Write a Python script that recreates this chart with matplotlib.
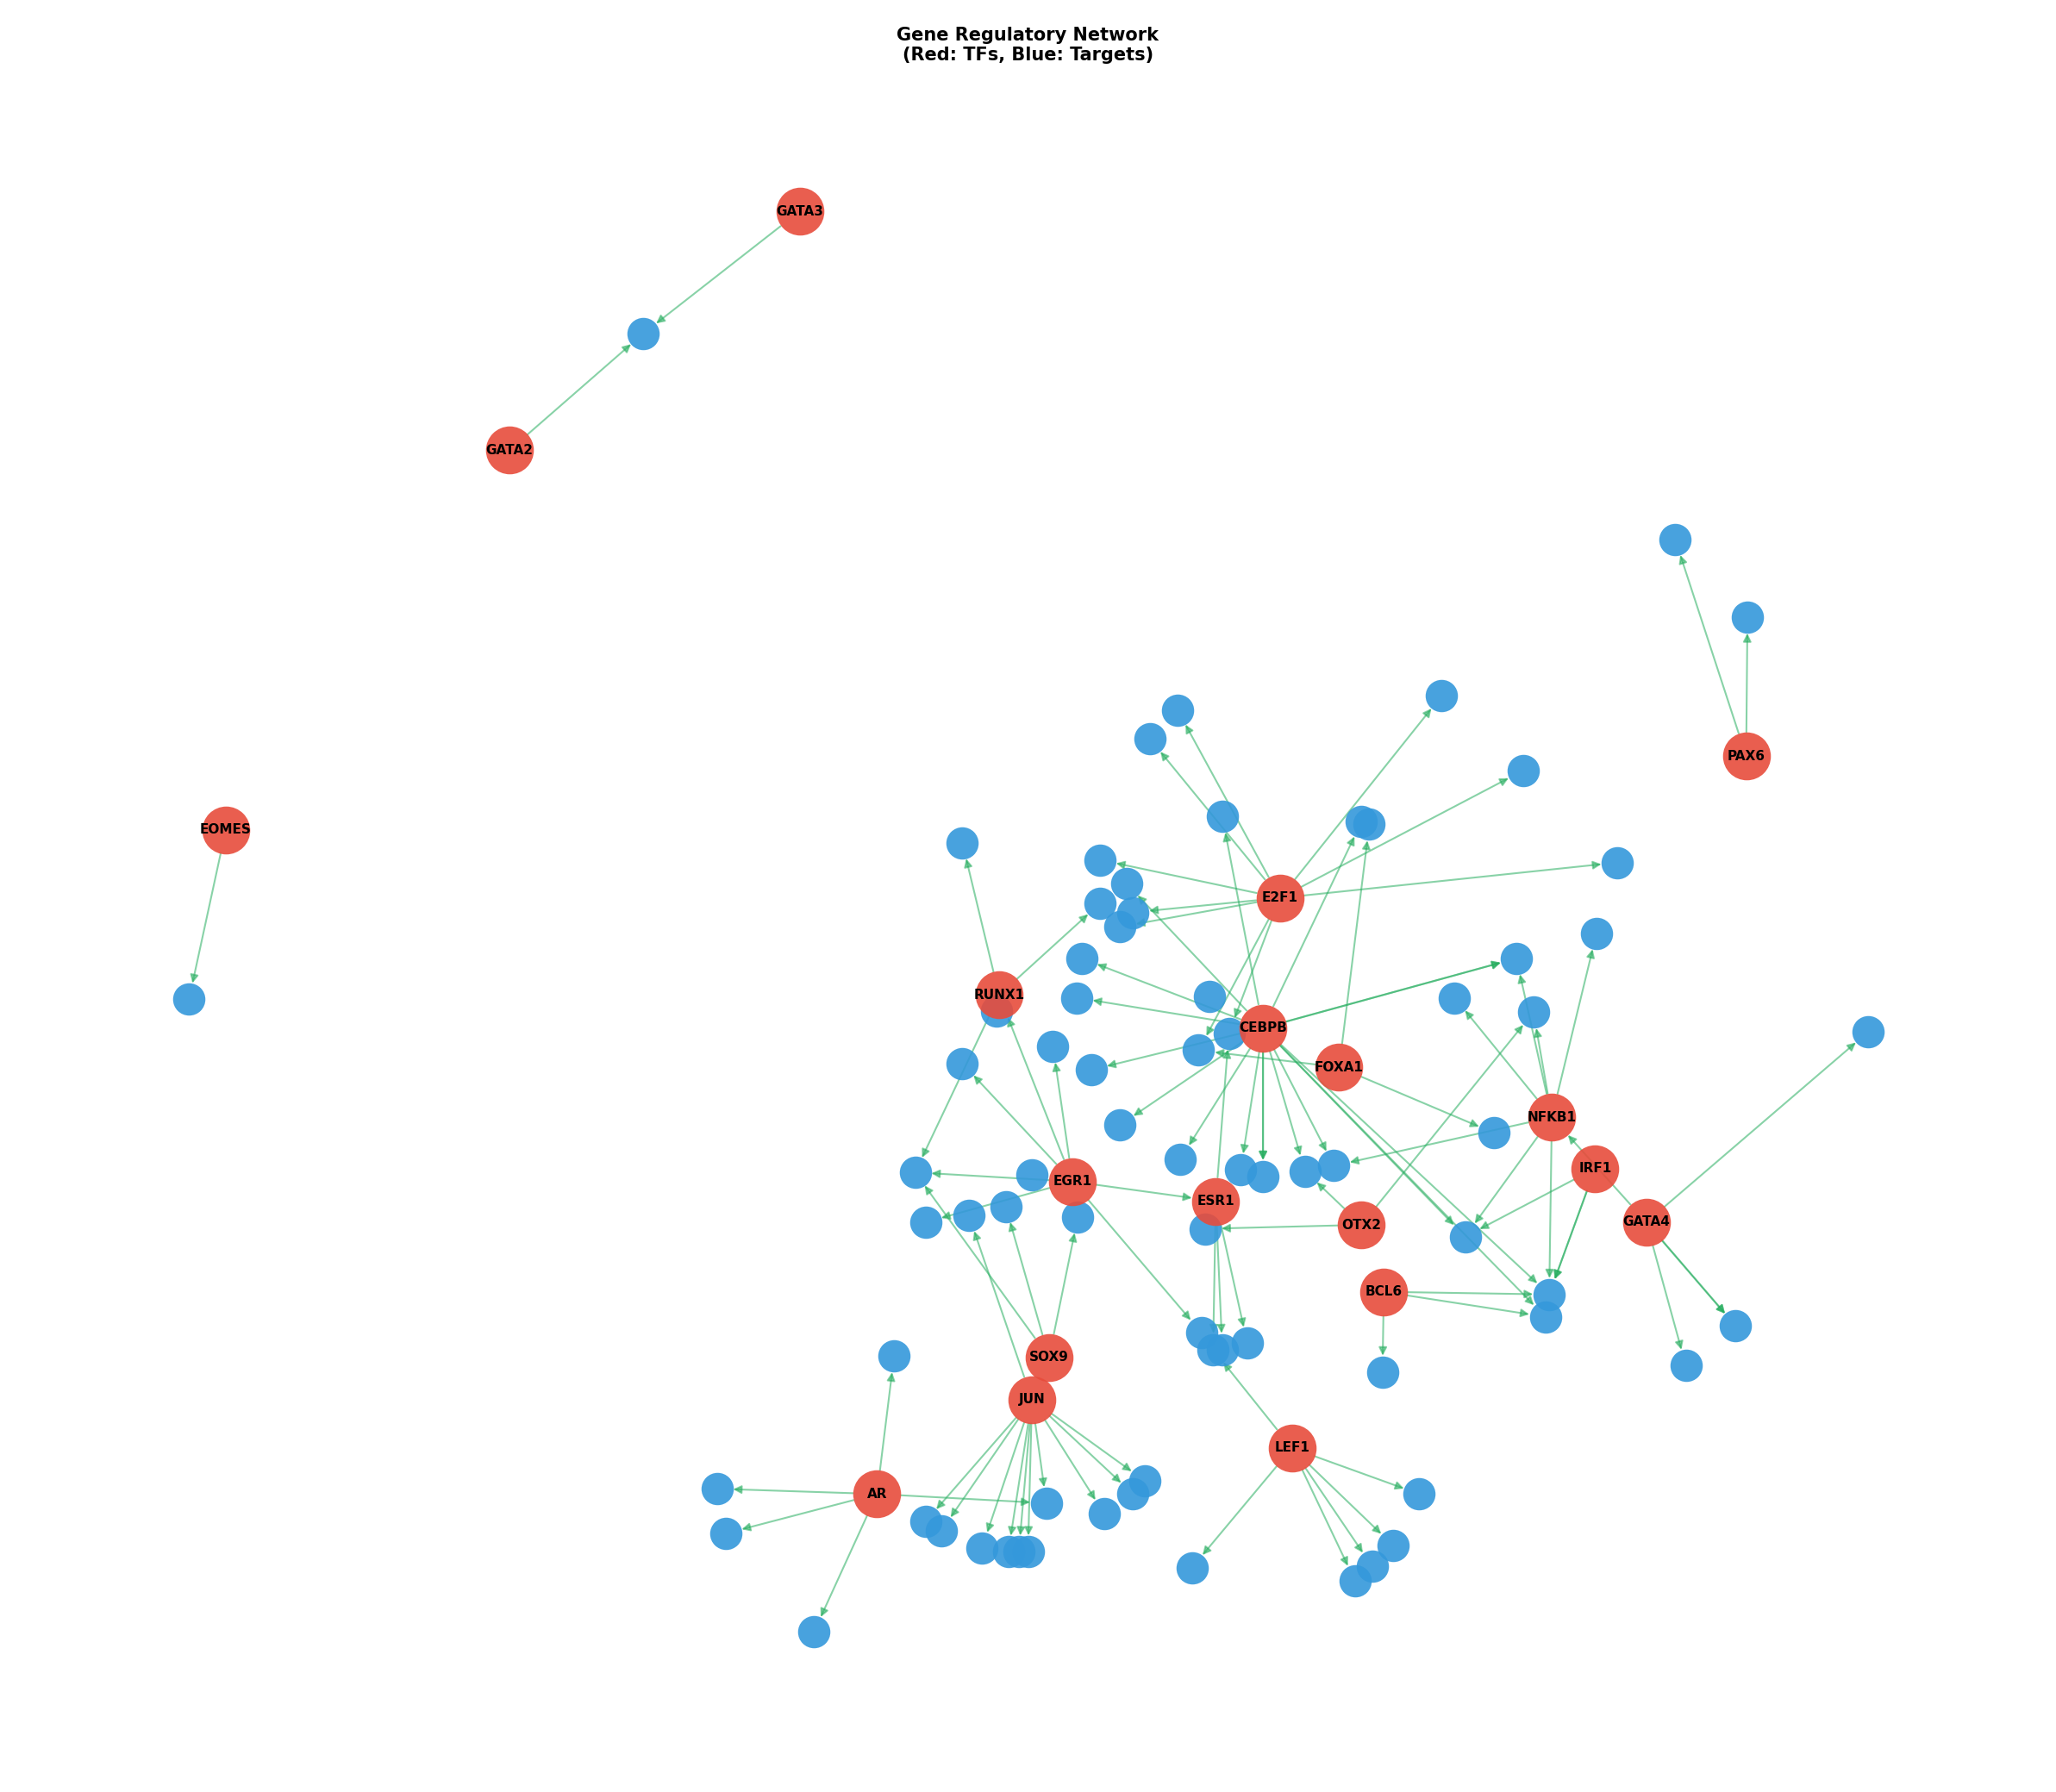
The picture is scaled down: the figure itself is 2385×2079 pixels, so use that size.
import matplotlib.pyplot as plt
from matplotlib.patches import FancyArrowPatch

# node positions (pixel-like layout coordinates, y down)
tf_names = ["GATA3", "GATA2", "PAX6", "EOMES", "E2F1", "RUNX1", "CEBPB", "FOXA1", "NFKB1",
            "IRF1", "EGR1", "ESR1", "GATA4", "OTX2", "BCL6", "SOX9", "JUN", "LEF1", "AR"]
tf_x = [609, 388, 1330, 172, 975, 761, 962, 1020, 1182, 1215, 817, 926, 1254, 1037, 1054, 799, 786, 984, 668]
tf_y = [161, 343, 576, 632, 684, 758, 783, 813, 851, 890, 900, 915, 931, 933, 984, 1034, 1066, 1103, 1138]

target_pos = {
    1: (490, 254), 2: (1276, 411), 3: (1331, 470), 4: (144, 761), 5: (1098, 530), 6: (897, 541),
    7: (876, 563), 8: (1160, 587), 9: (931, 622), 10: (1037, 626), 11: (1043, 628), 12: (733, 642),
    13: (838, 655), 14: (1232, 657), 15: (858, 673), 16: (838, 688), 17: (863, 695), 18: (853, 706),
    19: (1216, 711), 20: (824, 730), 21: (1155, 730), 22: (820, 760), 23: (921, 759), 24: (1108, 760),
    25: (759, 770), 26: (1168, 771), 27: (936, 787), 28: (1423, 786), 29: (802, 797), 30: (913, 800),
    31: (733, 810), 32: (831, 815), 33: (853, 857), 34: (1138, 863), 35: (899, 883), 36: (697, 893),
    37: (786, 895), 38: (945, 891), 39: (962, 896), 40: (994, 892), 41: (1016, 888), 42: (766, 919),
    43: (738, 926), 44: (705, 931), 45: (821, 927), 46: (918, 936), 47: (1116, 942), 48: (1180, 986),
    49: (1177, 1003), 50: (1322, 1010), 51: (915, 1015), 52: (924, 1028), 53: (931, 1028), 54: (950, 1023),
    55: (1284, 1040), 56: (1053, 1045), 57: (681, 1033), 58: (546, 1134), 59: (797, 1145), 60: (872, 1128),
    61: (863, 1138), 62: (1081, 1138), 63: (553, 1168), 64: (705, 1159), 65: (717, 1166), 66: (841, 1153),
    67: (748, 1179), 68: (768, 1182), 69: (776, 1182), 70: (783, 1182), 71: (1061, 1177), 72: (1045, 1193),
    73: (1032, 1204), 74: (908, 1194), 75: (620, 1243),
}

edges = [
    ("GATA3", 1), ("GATA2", 1), ("PAX6", 2), ("PAX6", 3), ("EOMES", 4),
    ("E2F1", 6), ("E2F1", 7), ("E2F1", 5), ("E2F1", 8), ("E2F1", 14), ("E2F1", 13), ("E2F1", 17),
    ("E2F1", 18), ("E2F1", 27), ("E2F1", 30),
    ("CEBPB", 9), ("CEBPB", 10), ("CEBPB", 15), ("CEBPB", 20), ("CEBPB", 22), ("CEBPB", 21),
    ("CEBPB", 21), ("CEBPB", 32), ("CEBPB", 33), ("CEBPB", 35), ("CEBPB", 38), ("CEBPB", 39),
    ("CEBPB", 39), ("CEBPB", 40), ("CEBPB", 41), ("CEBPB", 47), ("CEBPB", 48), ("CEBPB", 49),
    ("FOXA1", 30), ("FOXA1", 34), ("FOXA1", 11),
    ("RUNX1", 12), ("RUNX1", 16), ("RUNX1", 36),
    ("EGR1", "RUNX1"), ("EGR1", 31), ("EGR1", 29), ("EGR1", 36), ("EGR1", 44), ("EGR1", 51), ("EGR1", "ESR1"),
    ("ESR1", 27), ("ESR1", 52), ("ESR1", 53), ("ESR1", 54),
    ("NFKB1", 24), ("NFKB1", 26), ("NFKB1", 21), ("NFKB1", 19), ("NFKB1", 47), ("NFKB1", 48), ("NFKB1", 41),
    ("IRF1", 47), ("IRF1", 48), ("IRF1", 48),
    ("GATA4", "NFKB1"), ("GATA4", 28), ("GATA4", 50), ("GATA4", 50), ("GATA4", 55),
    ("OTX2", 26), ("OTX2", 46), ("OTX2", 40),
    ("BCL6", 48), ("BCL6", 49), ("BCL6", 56),
    ("SOX9", 45), ("SOX9", 42), ("SOX9", 36), ("JUN", 43),
    ("JUN", 59), ("JUN", 60), ("JUN", 61), ("JUN", 66), ("JUN", 64), ("JUN", 65), ("JUN", 67),
    ("JUN", 68), ("JUN", 69), ("JUN", 70),
    ("LEF1", 52), ("LEF1", 62), ("LEF1", 71), ("LEF1", 72), ("LEF1", 73), ("LEF1", 74),
    ("AR", 57), ("AR", 58), ("AR", 63), ("AR", 75), ("AR", 59),
]

pos = {n: (x, y) for n, x, y in zip(tf_names, tf_x, tf_y)}
pos.update(target_pos)

fig = plt.figure(figsize=(23.85, 20.79), dpi=100)
ax = fig.add_axes([0, 0, 1, 1])
ax.set_xlim(0, 1566)
ax.set_ylim(1365, 0)
ax.axis("off")

tf_r = 20  # points, half node diameter
tg_r = 13.5
for s, t in edges:
    a = FancyArrowPatch(pos[s], pos[t], arrowstyle="-|>", mutation_scale=14,
                        color="#27ae60", alpha=0.55, lw=1.5,
                        shrinkA=tf_r if s in tf_names else tg_r,
                        shrinkB=tf_r if t in tf_names else tg_r, zorder=1)
    ax.add_patch(a)

tx = [p[0] for p in target_pos.values()]
ty = [p[1] for p in target_pos.values()]
ax.scatter(tx, ty, s=(2 * tg_r) ** 2, c="#3498db", alpha=0.9, linewidths=0, zorder=2)
ax.scatter(tf_x, tf_y, s=(2 * tf_r) ** 2, c="#e74c3c", alpha=0.9, linewidths=0, zorder=3)
for n, x, y in zip(tf_names, tf_x, tf_y):
    ax.text(x, y, n, ha="center", va="center", fontsize=11, fontweight="bold", zorder=4)

fig.text(0.5, 0.985, "Gene Regulatory Network\n(Red: TFs, Blue: Targets)", ha="center", va="top",
         fontsize=15, fontweight="bold")

fig.savefig("out.png")
